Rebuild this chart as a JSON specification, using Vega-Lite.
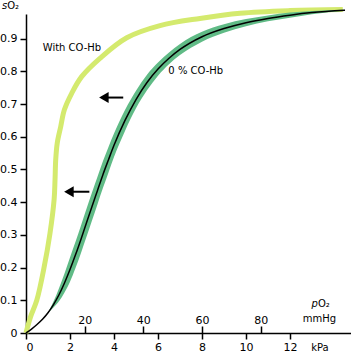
{
  "$schema": "https://vega.github.io/schema/vega-lite/v6.json",
  "width": 325,
  "height": 319,
  "autosize": {"type": "none"},
  "padding": {"left": 26, "top": 14, "right": 0, "bottom": 22},
  "background": "white",
  "config": {
    "view": {"stroke": null},
    "font": "DejaVu Sans",
    "axis": {
      "grid": false,
      "domainColor": "black",
      "domainWidth": 1.5,
      "tickColor": "black",
      "tickWidth": 1.5,
      "tickSize": 6,
      "labelColor": "black",
      "labelFont": "DejaVu Sans",
      "labelFontSize": 11,
      "title": null
    }
  },
  "datasets": {
    "normal": [
      {"P": 0, "s": 0}, {"P": 0.25, "s": 0.012}, {"P": 0.5, "s": 0.026}, {"P": 0.75, "s": 0.042},
      {"P": 1.0, "s": 0.062}, {"P": 1.25, "s": 0.087}, {"P": 1.5, "s": 0.117}, {"P": 1.75, "s": 0.153},
      {"P": 2.0, "s": 0.194}, {"P": 2.25, "s": 0.239}, {"P": 2.5, "s": 0.287}, {"P": 2.75, "s": 0.337},
      {"P": 3.0, "s": 0.387}, {"P": 3.25, "s": 0.436}, {"P": 3.5, "s": 0.485}, {"P": 3.75, "s": 0.53},
      {"P": 4.0, "s": 0.574}, {"P": 4.5, "s": 0.65}, {"P": 5.0, "s": 0.714}, {"P": 5.5, "s": 0.766},
      {"P": 6.0, "s": 0.807}, {"P": 6.5, "s": 0.84}, {"P": 7.0, "s": 0.867}, {"P": 8.0, "s": 0.906},
      {"P": 9.0, "s": 0.931}, {"P": 10, "s": 0.949}, {"P": 11, "s": 0.962}, {"P": 12, "s": 0.972},
      {"P": 13, "s": 0.98}, {"P": 14.5, "s": 0.987}
    ],
    "band": [
      {"P": 1.0, "lo": 0.062, "hi": 0.062}, {"P": 1.25, "lo": 0.078, "hi": 0.096},
      {"P": 1.5, "lo": 0.097, "hi": 0.137}, {"P": 1.75, "lo": 0.124, "hi": 0.182},
      {"P": 2.0, "lo": 0.157, "hi": 0.231}, {"P": 2.25, "lo": 0.199, "hi": 0.279},
      {"P": 2.5, "lo": 0.245, "hi": 0.329}, {"P": 2.75, "lo": 0.294, "hi": 0.38},
      {"P": 3.0, "lo": 0.344, "hi": 0.43}, {"P": 3.25, "lo": 0.394, "hi": 0.478},
      {"P": 3.5, "lo": 0.444, "hi": 0.526}, {"P": 3.75, "lo": 0.491, "hi": 0.569},
      {"P": 4.0, "lo": 0.538, "hi": 0.61}, {"P": 4.5, "lo": 0.618, "hi": 0.682},
      {"P": 5.0, "lo": 0.687, "hi": 0.741}, {"P": 5.5, "lo": 0.742, "hi": 0.79},
      {"P": 6.0, "lo": 0.787, "hi": 0.827}, {"P": 6.5, "lo": 0.822, "hi": 0.858},
      {"P": 7.0, "lo": 0.85, "hi": 0.884}, {"P": 8.0, "lo": 0.891, "hi": 0.921},
      {"P": 9.0, "lo": 0.918, "hi": 0.944}, {"P": 10, "lo": 0.938, "hi": 0.96},
      {"P": 11, "lo": 0.953, "hi": 0.971}, {"P": 12, "lo": 0.964, "hi": 0.98},
      {"P": 13, "lo": 0.975, "hi": 0.985}, {"P": 14.5, "lo": 0.9855, "hi": 0.9885}
    ],
    "coHb": [
      {"P": 0, "s": 0}, {"P": 0.21, "s": 0.05}, {"P": 0.49, "s": 0.1}, {"P": 0.82, "s": 0.2},
      {"P": 1.09, "s": 0.305}, {"P": 1.28, "s": 0.41}, {"P": 1.32, "s": 0.47}, {"P": 1.35, "s": 0.529},
      {"P": 1.42, "s": 0.581}, {"P": 1.577, "s": 0.631}, {"P": 1.741, "s": 0.682}, {"P": 2.077, "s": 0.733},
      {"P": 2.53, "s": 0.784}, {"P": 3.36, "s": 0.84}, {"P": 4.58, "s": 0.903}, {"P": 6.09, "s": 0.94},
      {"P": 7.91, "s": 0.962}, {"P": 9.73, "s": 0.978}, {"P": 12, "s": 0.986}, {"P": 14.4, "s": 0.989}
    ]
  },
  "layer": [
    {
      "data": {"name": "coHb"},
      "mark": {"type": "line", "color": "#d4ea6e", "strokeWidth": 5, "interpolate": "catmull-rom"},
      "encoding": {
        "x": {"field": "P", "type": "quantitative", "scale": {"domain": [0, 14.773], "nice": false, "zero": false},
          "axis": {"values": [0, 2, 4, 6, 8, 10, 12], "labelPadding": 2}},
        "y": {"field": "s", "type": "quantitative", "scale": {"domain": [0, 0.9755], "nice": false},
          "axis": {"values": [0, 0.1, 0.2, 0.3, 0.4, 0.5, 0.6, 0.7, 0.8, 0.9], "labelExpr": "datum.value == 0 ? '0' : format(datum.value, '.1f')", "labelPadding": 3}}
      }
    },
    {
      "data": {"name": "band"},
      "mark": {"type": "area", "color": "#60bb86", "interpolate": "monotone"},
      "encoding": {
        "x": {"field": "P", "type": "quantitative", "scale": {"domain": [0, 14.773], "nice": false, "zero": false}, "axis": null},
        "y": {"field": "lo", "type": "quantitative", "scale": {"domain": [0, 0.9755], "nice": false}, "axis": null},
        "y2": {"field": "hi"}
      }
    },
    {
      "data": {"name": "normal"},
      "mark": {"type": "line", "color": "black", "strokeWidth": 1.5, "interpolate": "monotone"},
      "encoding": {
        "x": {"field": "P", "type": "quantitative", "scale": {"domain": [0, 14.773], "nice": false, "zero": false},
          "axis": {"orient": "top", "offset": -319, "domain": false, "tickSize": 7, "labelPadding": 1,
            "values": [2.6664, 5.3329, 7.9993, 10.6658], "labelExpr": "format(datum.value * 7.50062, '.0f')"}},
        "y": {"field": "s", "type": "quantitative", "scale": {"domain": [0, 0.9755], "nice": false}, "axis": null}
      }
    },
    {
      "data": {"values": [{"x": 3.54, "x2": 4.42, "y": 0.72}, {"x": 1.95, "x2": 2.88, "y": 0.432}]},
      "mark": {"type": "rule", "color": "black", "strokeWidth": 2},
      "encoding": {
        "x": {"field": "x", "type": "quantitative", "scale": {"domain": [0, 14.773], "nice": false, "zero": false}, "axis": null},
        "x2": {"field": "x2"},
        "y": {"field": "y", "type": "quantitative", "scale": {"domain": [0, 0.9755], "nice": false}, "axis": null}
      }
    },
    {
      "data": {"values": [{"x": 3.54, "y": 0.72}, {"x": 1.95, "y": 0.432}]},
      "mark": {"type": "point", "shape": "triangle-left", "filled": true, "color": "black", "opacity": 1, "size": 121},
      "encoding": {
        "x": {"field": "x", "type": "quantitative", "scale": {"domain": [0, 14.773], "nice": false, "zero": false}, "axis": null},
        "y": {"field": "y", "type": "quantitative", "scale": {"domain": [0, 0.9755], "nice": false}, "axis": null}
      }
    },
    {
      "data": {"values": [{"x": 0.76, "y": 0.871, "t": "With CO-Hb"}, {"x": 6.47, "y": 0.802, "t": "0 % CO-Hb"}, {"x": 13.27, "y": 0.089, "t": "O₂"}, {"x": -0.855, "y": 1.0, "t": "O₂"}]},
      "mark": {"type": "text", "align": "left", "baseline": "middle", "fontSize": 10, "font": "DejaVu Sans", "color": "black"},
      "encoding": {
        "x": {"field": "x", "type": "quantitative", "scale": {"domain": [0, 14.773], "nice": false, "zero": false}, "axis": null},
        "y": {"field": "y", "type": "quantitative", "scale": {"domain": [0, 0.9755], "nice": false}, "axis": null},
        "text": {"field": "t"}
      }
    },
    {
      "data": {"values": [{"x": 13.27, "y": 0.089, "t": "p"}, {"x": -0.855, "y": 1.0, "t": "s"}]},
      "mark": {"type": "text", "align": "right", "baseline": "middle", "fontSize": 10, "font": "DejaVu Sans", "fontStyle": "italic", "color": "black"},
      "encoding": {
        "x": {"field": "x", "type": "quantitative", "scale": {"domain": [0, 14.773], "nice": false, "zero": false}, "axis": null},
        "y": {"field": "y", "type": "quantitative", "scale": {"domain": [0, 0.9755], "nice": false}, "axis": null},
        "text": {"field": "t"}
      }
    },
    {
      "data": {"values": [{"x": 13.36, "y": -0.045, "t": "kPa"}, {"x": 13.34, "y": 0.042, "t": "mmHg"}]},
      "mark": {"type": "text", "align": "center", "baseline": "middle", "fontSize": 10, "font": "DejaVu Sans", "color": "black"},
      "encoding": {
        "x": {"field": "x", "type": "quantitative", "scale": {"domain": [0, 14.773], "nice": false, "zero": false}, "axis": null},
        "y": {"field": "y", "type": "quantitative", "scale": {"domain": [0, 0.9755], "nice": false}, "axis": null},
        "text": {"field": "t"}
      }
    }
  ],
  "resolve": {"axis": {"x": "independent", "y": "independent"}}
}
